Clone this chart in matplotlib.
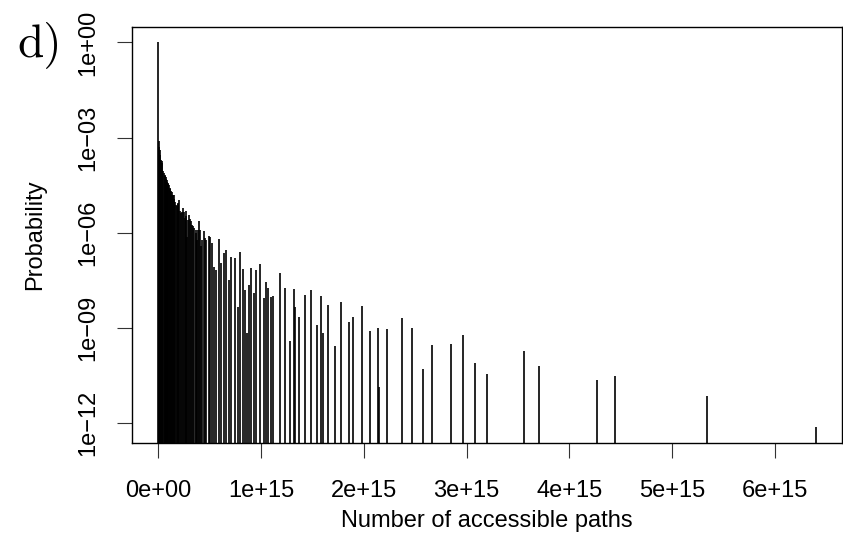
import matplotlib
matplotlib.use("Agg")
import matplotlib.pyplot as plt
import numpy as np

# Number of accessible paths (in units of 1e15) and their probabilities
paths_e15 = [
    0.000, 0.005, 0.009, 0.013, 0.019, 0.026, 0.033, 0.039, 0.046, 0.052,
    0.061, 0.066, 0.071, 0.076, 0.081, 0.085, 0.090, 0.097, 0.104, 0.110,
    0.117, 0.123, 0.129, 0.136, 0.143, 0.149, 0.156, 0.164, 0.172, 0.180,
    0.187, 0.194, 0.201, 0.212, 0.224, 0.232, 0.240, 0.253, 0.260, 0.266,
    0.274, 0.282, 0.290, 0.299, 0.308, 0.318, 0.328, 0.338, 0.350, 0.363,
    0.371, 0.379, 0.387, 0.396, 0.407, 0.418, 0.430, 0.445, 0.456, 0.467,
    0.496, 0.506, 0.527, 0.545, 0.564, 0.593,
    0.613, 0.635, 0.661, 0.688, 0.707, 0.742, 0.771, 0.795,
    0.822, 0.846, 0.866, 0.880, 0.899, 0.927, 0.950, 0.989, 1.031, 1.051,
    1.070, 1.096, 1.116, 1.187, 1.235, 1.284, 1.320, 1.333, 1.372, 1.423,
    1.485, 1.544, 1.583, 1.602, 1.647, 1.717, 1.780, 1.855, 1.897, 1.978,
    2.059, 2.137, 2.147, 2.225, 2.371, 2.471, 2.575, 2.668, 2.847, 2.967,
    3.087, 3.200, 3.560, 3.706, 4.267, 4.446, 5.338, 6.401,
]
probability = [
    1.0, 7.9e-4, 5.0e-4, 4.1e-4, 2.9e-4, 2.0e-4, 1.8e-4, 1.6e-4, 9.0e-5, 7.6e-5,
    6.7e-5, 6.0e-5, 5.9e-5, 5.0e-5, 4.7e-5, 4.0e-5, 3.7e-5, 3.4e-5, 3.3e-5, 2.6e-5,
    2.4e-5, 2.0e-5, 1.9e-5, 1.6e-5, 1.5e-5, 1.2e-5, 1.6e-5, 9.0e-6, 7.6e-6, 7.0e-6,
    8.8e-6, 8.0e-6, 1.1e-5, 5.0e-6, 4.1e-6, 4.5e-6, 6.0e-6, 4.6e-6, 3.0e-6, 4.7e-6,
    3.5e-6, 7.6e-7, 2.6e-6, 3.7e-6, 2.8e-6, 2.4e-6, 1.8e-6, 1.6e-6, 1.4e-6, 1.2e-6,
    1.0e-6, 6.0e-7, 1.2e-6, 2.4e-6, 1.2e-6, 3.9e-7, 6.0e-7, 1.1e-6, 7.0e-7, 6.0e-7,
    8.0e-7, 7.6e-7, 4.9e-7, 8.5e-8, 6.8e-8, 6.6e-7,
    1.1e-7, 2.3e-7, 2.9e-7, 3.3e-8, 1.7e-7, 1.6e-7, 4.7e-9, 2.4e-7,
    7.0e-8, 1.6e-8, 6.9e-10, 2.3e-8, 7.8e-8, 1.3e-8, 6.8e-8, 1.05e-7, 8.9e-9, 2.8e-8,
    1.8e-8, 9.5e-9, 1.0e-8, 5.4e-8, 1.8e-8, 3.9e-10, 1.7e-8, 4.6e-9, 2.2e-9, 1.1e-8,
    1.6e-8, 1.2e-9, 1.0e-8, 6.9e-10, 5.4e-9, 2.7e-10, 6.5e-9, 1.5e-9, 2.2e-9, 4.9e-9,
    8.1e-10, 9.8e-10, 1.4e-11, 9.1e-10, 2.0e-9, 1.0e-9, 5.1e-11, 2.9e-10, 3.1e-10, 6.2e-10,
    7.9e-11, 3.5e-11, 1.9e-10, 6.3e-11, 2.3e-11, 3.0e-11, 7.1e-12, 7.4e-13,
]

x_ticks_e15 = [0, 1, 2, 3, 4, 5, 6]
x_tick_labels = ["0e+00", "1e+15", "2e+15", "3e+15", "4e+15", "5e+15", "6e+15"]
y_ticks = [1e0, 1e-3, 1e-6, 1e-9, 1e-12]
y_tick_labels = ["1e+00", "1e\u221203", "1e\u221206", "1e\u221209", "1e\u221212"]

plt.rcParams['font.family'] = ['Liberation Sans', 'DejaVu Sans']

x = np.array(paths_e15) * 1e15
p = np.array(probability)

fig = plt.figure(figsize=(8.43, 5.57), dpi=100)
ax = fig.add_axes([132 / 843, 1 - 442.7 / 557, (842.3 - 132) / 843, (442.7 - 27) / 557])

# R-style 4% axis extension
xr = x.max() - x.min()
ax.set_xlim(x.min() - 0.04 * xr, x.max() + 0.04 * xr)
ly = np.log10(p)
yr = ly.max() - ly.min()
ax.set_yscale('log')
ax.set_ylim(10 ** (ly.min() - 0.04 * yr), 10 ** (ly.max() + 0.04 * yr))

ax.vlines(x, 1e-30, p, colors='black', linewidth=1.2)

ax.set_xticks(np.array(x_ticks_e15) * 1e15)
ax.set_xticklabels(x_tick_labels)
ax.set_yticks(y_ticks)
ax.set_yticklabels(y_tick_labels, rotation=90, va='center')
ax.minorticks_off()
ax.yaxis.set_minor_locator(matplotlib.ticker.NullLocator())

ax.tick_params(axis='both', direction='out', length=10.6, width=0.8, labelsize=17, color='#333333')
ax.tick_params(axis='x', pad=16)
ax.tick_params(axis='y', pad=13)
for s in ax.spines.values():
    s.set_linewidth(1.0)
    s.set_color('black')

fig.text(487 / 843, 1 - 521 / 557, "Number of accessible paths", ha='center', va='center', fontsize=17)
fig.text(35 / 843, 1 - 235 / 557, "Probability", ha='center', va='center', rotation=90, fontsize=17)
fig.text(17 / 843, 1 - 45 / 557, "d)", ha='left', va='center', fontsize=34, family=['cmr10', 'DejaVu Serif'])

fig.savefig("out.png", dpi=100)
